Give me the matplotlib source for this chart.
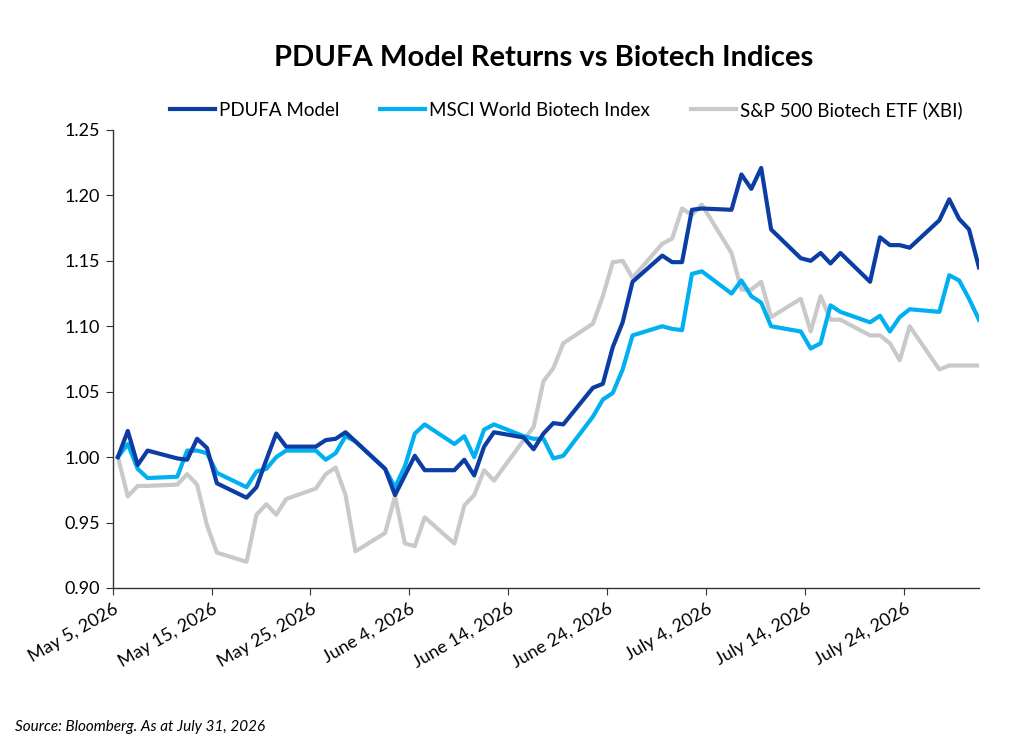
import numpy as np
import pandas as pd
import matplotlib
matplotlib.use("Agg")
import matplotlib.pyplot as plt
import matplotlib.dates as mdates

plt.rcParams['font.family'] = ['Lato', 'DejaVu Sans']

# weekdays from May 5 to July 31 2026 (holidays kept, value carried)
dates = pd.bdate_range("2026-05-05", "2026-07-31")

pdufa = [
    1.000, 1.020, 0.994, 1.005,                 # May 5-8
    0.999, 0.998, 1.014, 1.007, 0.980,          # May 11-15
    0.969, 0.977, 0.998, 1.018, 1.008,          # May 18-22
    1.008, 1.013, 1.014, 1.019, 1.012,          # May 25-29
    0.991, 0.971, 0.986, 1.001, 0.990,          # Jun 1-5
    0.990, 0.998, 0.986, 1.008, 1.019,          # Jun 8-12
    1.015, 1.006, 1.018, 1.026, 1.025,          # Jun 15-19
    1.053, 1.056, 1.084, 1.103, 1.134,          # Jun 22-26
    1.154, 1.149, 1.149, 1.189, 1.190,          # Jun 29-Jul 3
    1.189, 1.216, 1.205, 1.221, 1.174,          # Jul 6-10
    1.152, 1.150, 1.156, 1.148, 1.156,          # Jul 13-17
    1.134, 1.168, 1.162, 1.162, 1.160,          # Jul 20-24
    1.181, 1.197, 1.182, 1.174, 1.145,          # Jul 27-31
]

msci = [
    1.000, 1.010, 0.991, 0.984,
    0.985, 1.005, 1.005, 1.003, 0.988,
    0.977, 0.989, 0.991, 1.000, 1.005,
    1.005, 0.998, 1.003, 1.016, 1.012,
    0.991, 0.977, 0.993, 1.018, 1.025,
    1.010, 1.016, 1.000, 1.021, 1.025,
    1.016, 1.014, 1.014, 0.999, 1.001,
    1.031, 1.044, 1.049, 1.067, 1.093,
    1.100, 1.098, 1.097, 1.140, 1.142,
    1.125, 1.135, 1.123, 1.118, 1.100,
    1.096, 1.083, 1.087, 1.116, 1.111,
    1.103, 1.108, 1.096, 1.107, 1.113,
    1.111, 1.139, 1.135, 1.121, 1.105,
]

xbi = [
    1.000, 0.970, 0.978, 0.978,
    0.979, 0.987, 0.979, 0.948, 0.927,
    0.920, 0.956, 0.964, 0.956, 0.968,
    0.976, 0.987, 0.992, 0.971, 0.928,
    0.942, 0.970, 0.934, 0.932, 0.954,
    0.934, 0.963, 0.971, 0.990, 0.982,
    1.013, 1.023, 1.058, 1.068, 1.087,
    1.102, 1.123, 1.149, 1.150, 1.137,
    1.163, 1.167, 1.190, 1.185, 1.193,
    1.156, 1.128, 1.128, 1.134, 1.107,
    1.121, 1.096, 1.123, 1.105, 1.105,
    1.093, 1.093, 1.087, 1.074, 1.100,
    1.067, 1.070, 1.070, 1.070, 1.070,
]

names = ["PDUFA Model", "MSCI World Biotech Index", "S&P 500 Biotech ETF (XBI)"]
colors = ["#0B3DA5", "#00B0F0", "#C9C9C9"]

x = dates + pd.Timedelta(hours=13)

fig = plt.figure(figsize=(10.24, 7.47), dpi=100)
ax = fig.add_axes([0.1099, 0.2129, 0.8461, 0.6131])

# grey first so blues sit on top
ax.plot(x, xbi, color=colors[2], lw=3, label=names[2], zorder=2)
ax.plot(x, msci, color=colors[1], lw=3, label=names[1], zorder=3)
ax.plot(x, pdufa, color=colors[0], lw=3, label=names[0], zorder=4)

ax.set_ylim(0.90, 1.25)
ax.set_yticks(np.arange(0.90, 1.2501, 0.05))
ax.yaxis.set_major_formatter(plt.FuncFormatter(lambda v, p: f"{v:.2f}"))
ax.set_xlim(pd.Timestamp("2026-05-05"), x[-1])

ticks = pd.date_range("2026-05-05", "2026-07-24", freq="10D")
ax.set_xticks(ticks)
ax.set_xticklabels([f"{d.strftime('%B')} {d.day}, {d.year}" for d in ticks],
                   rotation=30, ha="right", rotation_mode="anchor")

for s in ["top", "right"]:
    ax.spines[s].set_visible(False)
for s in ["left", "bottom"]:
    ax.spines[s].set_color("#333333")
    ax.spines[s].set_linewidth(1.0)
ax.tick_params(axis="both", labelsize=13, length=5, color="#333333", pad=4)

h, l = ax.get_legend_handles_labels()
order = [2, 1, 0]
fig.legend([h[i] for i in order], [l[i] for i in order],
           loc="center", bbox_to_anchor=(0.553, 0.853), ncol=3, frameon=False,
           fontsize=13.5, handlelength=2.4, handletextpad=0.2, columnspacing=2.2)

fig.text(0.531, 0.922, "PDUFA Model Returns vs Biotech Indices", ha="center",
         va="center", fontsize=21, fontweight="bold")
fig.text(0.015, 0.027, "Source: Bloomberg. As at July 31, 2026", ha="left",
         va="center", fontsize=11, style="italic")

fig.savefig("out.png", dpi=100)
